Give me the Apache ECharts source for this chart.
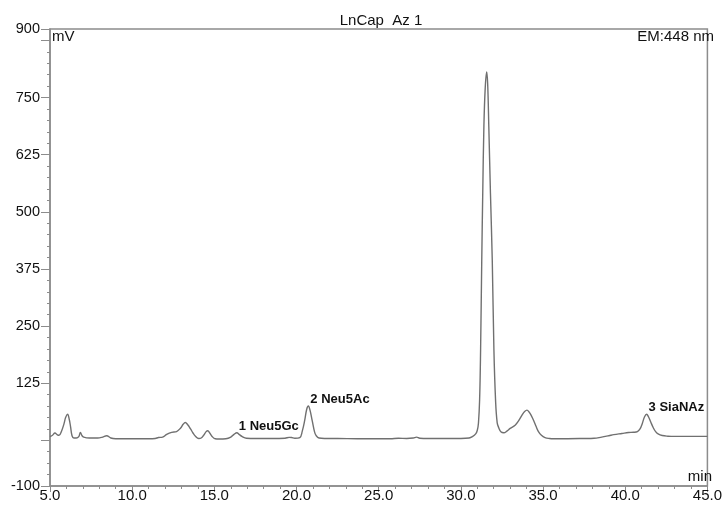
<!DOCTYPE html>
<html>
<head>
<meta charset="utf-8">
<title>LnCap Az 1</title>
<script src="https://cdn.jsdelivr.net/npm/echarts@6/dist/echarts.min.js"></script>
<style>
  html, body { margin: 0; padding: 0; background: #ffffff; }
  #chart { width: 725px; height: 510px; }
</style>
</head>
<body>
<div id="chart"></div>
<script>
// Retention time (min) and fluorescence signal (mV) of the chromatogram trace
const times = [
  5.0, 5.15, 5.3, 5.45, 5.55, 5.7, 5.85, 5.95, 6.07, 6.17, 6.25, 6.34, 6.45, 6.6, 6.75, 6.85, 6.95, 7.05,
  7.4, 7.9, 8.2, 8.45, 8.7, 9.0, 10.0, 11.0, 11.4, 11.6, 11.85, 12.1, 12.4, 12.7, 12.95, 13.1, 13.23,
  13.38, 13.55, 13.7, 13.85, 14.05, 14.2, 14.35, 14.5, 14.6, 14.72, 14.85, 15.05, 15.3, 15.7, 16.0,
  16.2, 16.37, 16.5, 16.7, 16.95, 17.5, 18.5, 19.3, 19.55, 19.7, 19.9, 20.2, 20.35, 20.5, 20.62, 20.72,
  20.82, 20.96, 21.1, 21.2, 21.37, 21.7, 22.5, 23.7, 25.0, 25.7, 26.2, 26.7, 27.1, 27.3, 27.5, 28.0,
  29.0, 30.0, 30.5, 30.7, 30.9, 31.0, 31.07, 31.14, 31.2, 31.27, 31.33, 31.4, 31.48, 31.57, 31.63,
  31.7, 31.8, 31.91, 32.01, 32.11, 32.21, 32.31, 32.45, 32.61, 32.8, 33.0, 33.3, 33.5, 33.72, 33.88,
  34.02, 34.15, 34.3, 34.42, 34.58, 34.72, 34.9, 35.12, 35.4, 35.62, 36.5, 37.5, 38.1, 38.5, 39.0,
  39.3, 39.8, 40.2, 40.5, 40.74, 40.9, 41.04, 41.17, 41.3, 41.42, 41.54, 41.7, 41.85, 42.0, 42.25,
  42.6, 43.0, 44.0, 45.0
];
const signal = [
  8, 11, 16, 12, 11, 20, 36, 50, 57, 46, 30, 10, 5, 5, 8, 17, 10, 7,
  5, 5, 7, 10, 5, 3.5, 3.5, 3.5, 4, 6, 7, 13, 17.5, 19, 27, 35, 39,
  34, 25, 16, 9, 4, 5, 11, 19, 21, 16, 9, 3.5, 3, 3.5, 7,
  13, 16.5, 13, 8, 4.5, 4, 4, 4.5, 6.5, 6, 4.5, 6, 20, 44, 68, 75,
  66, 42, 18, 10, 5, 4, 4, 3.5, 3.5, 3.5, 4.5, 4, 5, 7, 4.5, 4,
  4, 4, 5, 8, 14, 22, 38, 88, 198, 394, 540, 686, 770, 806, 780,
  686, 540, 394, 198, 88, 38, 27, 18, 16.5, 20, 26, 33, 42, 55, 63,
  66, 62, 53, 44, 30, 19, 11, 6, 4, 3.5, 3.5, 4, 4.5, 6.5, 10,
  12.5, 15, 17, 17.5, 19, 25, 37, 51, 57, 51, 41, 28, 19, 14, 10.5,
  9, 8.5, 8.5, 8.5
];

// Identified peaks
const peakNames = ['1 Neu5Gc', '2 Neu5Ac', '3 SiaNAz'];
const peakTimes = [16.37, 20.72, 41.3];
const peakHeights = [16.5, 75, 57];

// Axis tick labels
const yLabelValues = [-100, 125, 250, 375, 500, 625, 750, 900];
const yMajorTicks = [-100, 0, 125, 250, 375, 500, 625, 750, 875, 900];

const FONT = 'Liberation Sans, Arial, Helvetica, sans-serif';
const AXIS_COLOR = '#8c8c8c';
const TEXT_COLOR = '#111111';

const traceData = times.map((t, i) => [t, signal[i]]);
const peakData = peakTimes.map((t, i) => ({ value: [t, peakHeights[i]], name: peakNames[i] }));

const GRID = { left: 50, top: 29, width: 664, height: 457 };

const chart = echarts.init(document.getElementById('chart'), null, { renderer: 'canvas' });

chart.setOption({
  animation: false,
  backgroundColor: '#ffffff',
  grid: Object.assign({
    show: true,
    borderColor: AXIS_COLOR,
    borderWidth: 1.5,
    backgroundColor: 'transparent'
  }, GRID),
  xAxis: {
    type: 'value',
    min: 5,
    max: 45,
    interval: 5,
    axisLine: { show: true, onZero: false, lineStyle: { color: AXIS_COLOR, width: 1.5 } },
    axisTick: { show: true, length: 6, lineStyle: { color: AXIS_COLOR, width: 1 } },
    minorTick: { show: true, splitNumber: 5, length: 3, lineStyle: { color: AXIS_COLOR, width: 1 } },
    axisLabel: {
      margin: 2,
      color: TEXT_COLOR,
      fontFamily: FONT,
      fontSize: 15,
      showMinLabel: true,
      showMaxLabel: true,
      formatter: v => v.toFixed(1)
    },
    splitLine: { show: false }
  },
  yAxis: [
    {
      // minor ticks every 25 mV
      type: 'value',
      min: -100,
      max: 900,
      interval: 25,
      position: 'left',
      axisLine: { show: true, onZero: false, lineStyle: { color: AXIS_COLOR, width: 1.5 } },
      axisTick: { show: true, length: 3, lineStyle: { color: AXIS_COLOR, width: 1 } },
      axisLabel: { show: false },
      splitLine: { show: false }
    },
    {
      // major ticks and labels
      type: 'value',
      min: -100,
      max: 900,
      position: 'left',
      axisLine: { show: false },
      axisTick: {
        show: true,
        length: 9,
        customValues: yMajorTicks,
        lineStyle: { color: AXIS_COLOR, width: 1 }
      },
      axisLabel: {
        show: true,
        margin: 10,
        customValues: yLabelValues,
        color: TEXT_COLOR,
        fontFamily: FONT,
        fontSize: 14.5
      },
      splitLine: { show: false }
    }
  ],
  graphic: [
    {
      type: 'text', x: 381, y: 21,
      style: { text: 'LnCap  Az 1', fill: TEXT_COLOR, font: '15px ' + FONT, textAlign: 'center', textVerticalAlign: 'middle' }
    },
    {
      type: 'text', x: 52, y: 37,
      style: { text: 'mV', fill: TEXT_COLOR, font: '15px ' + FONT, textAlign: 'left', textVerticalAlign: 'middle' }
    },
    {
      type: 'text', x: 714, y: 37,
      style: { text: 'EM:448 nm', fill: TEXT_COLOR, font: '15px ' + FONT, textAlign: 'right', textVerticalAlign: 'middle' }
    },
    {
      type: 'text', x: 712, y: 477,
      style: { text: 'min', fill: TEXT_COLOR, font: '15px ' + FONT, textAlign: 'right', textVerticalAlign: 'middle' }
    }
  ],
  series: [
    {
      type: 'line',
      name: 'trace',
      data: traceData,
      yAxisIndex: 0,
      showSymbol: false,
      smooth: 0.4,
      lineStyle: { color: '#707070', width: 1.4 },
      silent: true,
      z: 3
    },
    {
      type: 'scatter',
      name: 'peaks',
      data: peakData,
      yAxisIndex: 0,
      symbolSize: 0,
      itemStyle: { opacity: 1 },
      silent: true,
      label: {
        show: true,
        position: 'top',
        distance: 0,
        align: 'left',
        offset: [2, 0],
        formatter: p => p.name,
        color: TEXT_COLOR,
        fontFamily: FONT,
        fontSize: 13,
        fontWeight: 'bold'
      },
      z: 4
    }
  ]
});
</script>
</body>
</html>
